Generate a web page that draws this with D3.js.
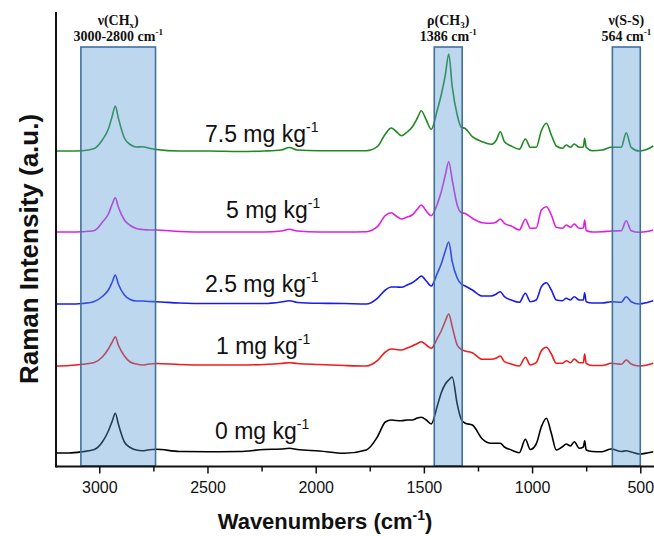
<!DOCTYPE html>
<html><head><meta charset="utf-8">
<script src="https://cdn.jsdelivr.net/npm/d3@7"></script>
<style>body{margin:0;background:#fff} svg{display:block}</style>
</head><body><svg id="c" width="654" height="536"></svg>
<script>
// ---------- DATA ----------
const wavenumbers = [3200,3139,3079,3023,2986,2958,2940,2926,2912,2884,
  2857,2829,2801,2769,2737,2630,2492,2353,2238,2159,
  2122,2085,1983,1868,1766,1715,1678,1651,1628,1604,
  1577,1554,1530,1512,1489,1466,1438,1420,1401,1385,
  1369,1346,1327,1309,1276,1230,1189,1165,1147,1128,
  1096,1059,1031,1008,981,957,934,911,888,860,
  842,823,805,782,763,757,750,722,676,634,
  588,565,542,505,468,440];

const seriesNames = ["0 mg kg", "1 mg kg", "2.5 mg kg", "5 mg kg", "7.5 mg kg"];
const seriesOffsets = [13, 100, 162, 234, 315];

const intensity0 = [0,0,1.3,3.5,11,22,32,39.7,29,11,
  5.5,3,2.3,3.3,3.7,1.5,1.3,1.5,3.5,4,
  4.7,3.5,2,-0.3,3,16,31,33,32.5,32.3,
  33,33,35,35.7,33,29,47,60,69,73,
  76,49,33.5,29.7,28,14,9.7,9.7,9.7,6,
  3,0.3,13.7,3.5,9,26.3,34.7,19.7,3,6.3,
  9,7,11.3,4.7,6,12.3,3,1.5,1.3,4,
  1.5,2.3,1,-1,0,1.3];
const intensity1 = [0,0.5,1.7,3.5,9,17,24,29.3,21,10,
  4,2,1,2,2.5,1.5,1,1,1.5,2.5,
  3.3,2.5,1.5,0.5,0,5.3,14,17,16.5,16,
  18,20,22.5,24.3,21,17.7,27.7,35,45,52,
  39.3,21,16.7,15,13.3,6.7,6.7,8,10,4.3,
  2,0,8.7,1,3.3,15.3,18.7,12,2.7,2.7,
  5.3,3.3,7,3.3,3.3,12,2.7,0.5,0.5,2.7,
  1.7,6,2,0,1,2.7];
const intensity2_5 = [0,0,0.5,2.5,7.5,14,22,29,20,9,
  4.5,3,3,2.5,2.3,1,0.5,0.5,0.5,2,
  3.3,1.5,0.7,0.5,0,5.7,14,17,17,16.7,
  19,21.3,25,28,23,18,30.7,40,53,62,
  42.3,26,20,18,14,8,8,10,12.3,7.3,
  4,1.7,10.7,2.3,4,17.3,21.3,14,4,3.3,
  5.7,4,7.3,4,4,11.3,2.3,1,1,2.3,
  1.7,7.3,2.3,0,1.5,3.3];
const intensity5 = [0,0,0.3,1.5,9.7,18,28,34.3,25,12,
  6.5,3.5,2.5,2,2,0.5,0,0,0,1,
  2.7,1,0,0,0.3,5.3,16.5,19.3,16,13,
  15,17,23,27,21,16.3,28,40,57,70.3,
  52,27,19.3,18.5,13.7,9.3,8.7,10,13,8.7,
  6,2,12.7,3.7,4,22,25.3,17,4.7,3.7,
  7,4.7,8,3.7,4,12,1.5,0,0.3,1,
  1.3,11.3,1.3,-0.3,0.5,2];
const intensity7_5 = [0,0,0.3,2.5,11,22,35,45,33,13,
  6.5,4,4.3,2.7,1.5,0,0,-0.5,0,1,
  3.5,1,0.3,0.3,0.3,4.3,17,23,19.5,15.3,
  19,24,33,40.3,31,21.7,41,56,76,97,
  64.3,36,23.7,22.5,14.3,9.3,6.7,11,19.3,9.3,
  5,1.7,12,3.7,3.7,20.3,27.7,16,5,2.7,
  6,3.7,7,3.7,4,12.7,3.7,0.3,1,3.7,
  3.7,18.3,3.7,0,1.7,5];
const seriesIntensities = [intensity0, intensity1, intensity2_5, intensity5, intensity7_5];

const xTicks = [3000, 2500, 2000, 1500, 1000, 500];
const xMinorTicks = [2750, 2250, 1750, 1250, 750];

const bandNames = ["ν(CH", "ρ(CH", "ν(S-S)"];
const bandSubs = ["x", "3", ""];
const bandTails = [")", ")", ""];
const bandPositions = ["3000-2800 cm", "1386 cm", "564 cm"];
const bandStart = [3085, 1452, 629];
const bandEnd = [2740, 1323, 500];

// ---------- STYLE / LAYOUT ----------
const colors = ["#000000", "#ee1c1c", "#1c1ce8", "#e01ee0", "#1f8a24"];
const labelX = [215, 216, 205, 226, 205];
const labelY = [439, 354, 292, 218, 142];

const svg = d3.select("#c");
const W = 654, H = 536;
const x = d3.scaleLinear().domain([3200, 400]).range([56, 56 + 2800 * 0.2164]);
const y = d3.scaleLinear().domain([0, 420]).range([466, 46]);
const sans = "'Liberation Sans', Arial, sans-serif";
const serif = "'Liberation Serif', 'Times New Roman', serif";

// spectra
const line = d3.line().x(d => x(d[0])).y(d => y(d[1])).curve(d3.curveMonotoneX);
seriesIntensities.forEach((vals, i) => {
  const pts = wavenumbers.map((w, k) => [w, vals[k] + seriesOffsets[i]]);
  svg.append("path").attr("d", line(pts)).attr("fill", "none")
    .attr("stroke", colors[i]).attr("stroke-width", 1.6).attr("stroke-linejoin", "round");
});

// series labels
seriesNames.forEach((n, i) => {
  const t = svg.append("text").attr("x", labelX[i]).attr("y", labelY[i])
    .attr("font-family", sans).attr("font-size", 23).attr("fill", "#111");
  t.append("tspan").text(n);
  t.append("tspan").attr("dy", -10).attr("font-size", 14).text("-1");
});

// bands (semi-transparent overlay)
bandStart.forEach((s, i) => {
  svg.append("rect").attr("x", x(s)).attr("y", 47)
    .attr("width", x(bandEnd[i]) - x(s)).attr("height", 466 - 47)
    .attr("fill", "#5b9bd5").attr("fill-opacity", 0.4)
    .attr("stroke", "#41719c").attr("stroke-width", 1.6);
  const cx = (x(s) + x(bandEnd[i])) / 2;
  const t1 = svg.append("text").attr("x", cx).attr("y", 25).attr("text-anchor", "middle")
    .attr("font-family", serif).attr("font-weight", "bold").attr("font-size", 14).attr("fill", "#111");
  t1.append("tspan").text(bandNames[i]);
  if (bandSubs[i]) {
    t1.append("tspan").attr("dy", 3).attr("font-size", 9).text(bandSubs[i]);
    t1.append("tspan").attr("dy", -3).text(bandTails[i]);
  }
  const t2 = svg.append("text").attr("x", cx).attr("y", 41).attr("text-anchor", "middle")
    .attr("font-family", serif).attr("font-weight", "bold").attr("font-size", 14).attr("fill", "#111");
  t2.append("tspan").text(bandPositions[i]);
  t2.append("tspan").attr("dy", -6).attr("font-size", 9).text("-1");
});

// axes
const gx = svg.append("g").attr("transform", "translate(0,466.5)");
gx.call(d3.axisBottom(x).tickValues(xTicks).tickSize(7).tickPadding(8).tickFormat(d3.format("d")));
gx.select(".domain").remove();
gx.selectAll("text").attr("font-family", sans).attr("font-size", 16).attr("fill", "#111");
gx.selectAll("line").attr("stroke", "#111").attr("stroke-width", 1.5);
const gm = svg.append("g").attr("transform", "translate(0,466.5)");
gm.call(d3.axisBottom(x).tickValues(xMinorTicks).tickSize(5).tickFormat(""));
gm.select(".domain").remove();
gm.selectAll("line").attr("stroke", "#111").attr("stroke-width", 1.5);

svg.append("line").attr("x1", 56).attr("x2", W).attr("y1", 466.5).attr("y2", 466.5)
  .attr("stroke", "#111").attr("stroke-width", 2);
svg.append("line").attr("x1", 56).attr("x2", 56).attr("y1", 12).attr("y2", 467.5)
  .attr("stroke", "#111").attr("stroke-width", 2);

// axis titles
const xt = svg.append("text").attr("x", 325).attr("y", 529).attr("text-anchor", "middle")
  .attr("font-family", sans).attr("font-weight", "bold").attr("font-size", 22).attr("fill", "#111");
xt.append("tspan").text("Wavenumbers (cm");
xt.append("tspan").attr("dy", -9).attr("font-size", 14).text("-1");
xt.append("tspan").attr("dy", 9).text(")");

svg.append("text").attr("transform", "translate(38,249) rotate(-90)").attr("text-anchor", "middle")
  .attr("font-family", sans).attr("font-weight", "bold").attr("font-size", 26).attr("fill", "#111")
  .text("Raman Intensity (a.u.)");
</script></body></html>
